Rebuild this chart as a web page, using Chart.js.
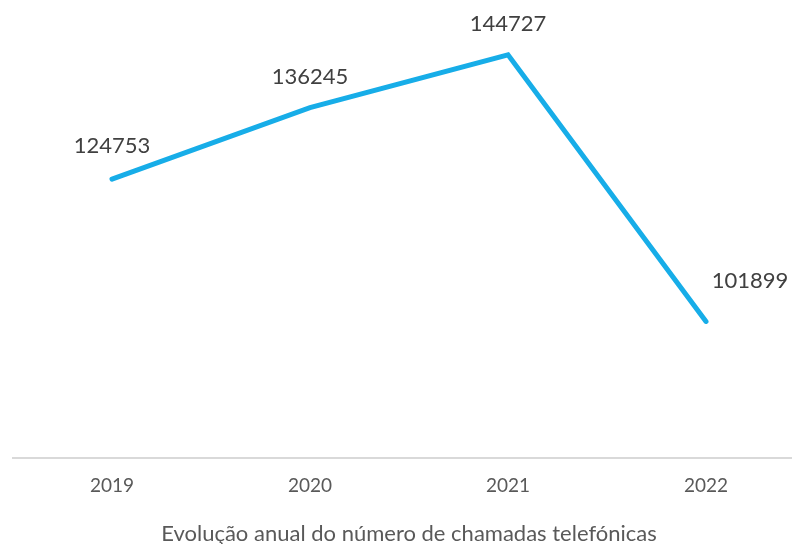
<!doctype html>
<html>

<head>
    <title>Chamadas telefónicas</title>
    <script src="https://cdn.jsdelivr.net/npm/chart.js"></script>
    <style>
        html, body { margin: 0; padding: 0; background: #fff; overflow: hidden; }
        #wrap { width: 806px; height: 544px; }
    </style>
</head>

<body>
    <div id="wrap"><canvas id="chamadas"></canvas></div>

    <script>
        var anos = ['2019', '2020', '2021', '2022'];
        var chamadas = [124753, 136245, 144727, 101899];

        // rótulos dos valores por cima dos pontos
        var rotulos = {
            id: 'rotulos',
            afterDatasetsDraw(chart) {
                var ctx = chart.ctx;
                var meta = chart.getDatasetMeta(0);
                var desvio = [[0, -33], [0, -31], [0, -31], [44, -41]];
                ctx.save();
                ctx.font = '22px Lato';
                ctx.fillStyle = '#404040';
                ctx.textAlign = 'center';
                ctx.textBaseline = 'middle';
                meta.data.forEach((p, i) => {
                    ctx.fillText(String(chamadas[i]), p.x + desvio[i][0], p.y + desvio[i][1]);
                });
                ctx.restore();
            }
        };

        var grafico = new Chart(document.getElementById('chamadas').getContext('2d'), {
            type: 'line',
            data: {
                labels: anos,
                datasets: [{
                    data: chamadas,
                    borderColor: '#17ade8',
                    borderWidth: 5,
                    borderCapStyle: 'round',
                    borderJoinStyle: 'miter',
                    pointRadius: 0,
                    tension: 0
                }]
            },
            options: {
                responsive: true,
                maintainAspectRatio: false,
                animation: false,
                layout: { padding: { top: 22, left: 13, right: 1, bottom: 0 } },
                plugins: {
                    legend: { display: false },
                    tooltip: { enabled: false },
                    title: {
                        display: true,
                        position: 'bottom',
                        text: 'Evolução anual do número de chamadas telefónicas',
                        color: '#595959',
                        font: { family: 'Lato', size: 22, weight: 'normal' },
                        padding: { top: 6, bottom: -3 }
                    }
                },
                scales: {
                    x: {
                        offset: true,
                        grid: { display: false, drawTicks: false },
                        border: { display: true, color: '#d9d9d9', width: 2 },
                        ticks: {
                            color: '#595959',
                            font: { family: 'Lato', size: 19 },
                            padding: 17
                        }
                    },
                    y: {
                        display: false,
                        min: 80000,
                        max: 150000
                    }
                }
            },
            plugins: [rotulos]
        });
    </script>
</body>

</html>
